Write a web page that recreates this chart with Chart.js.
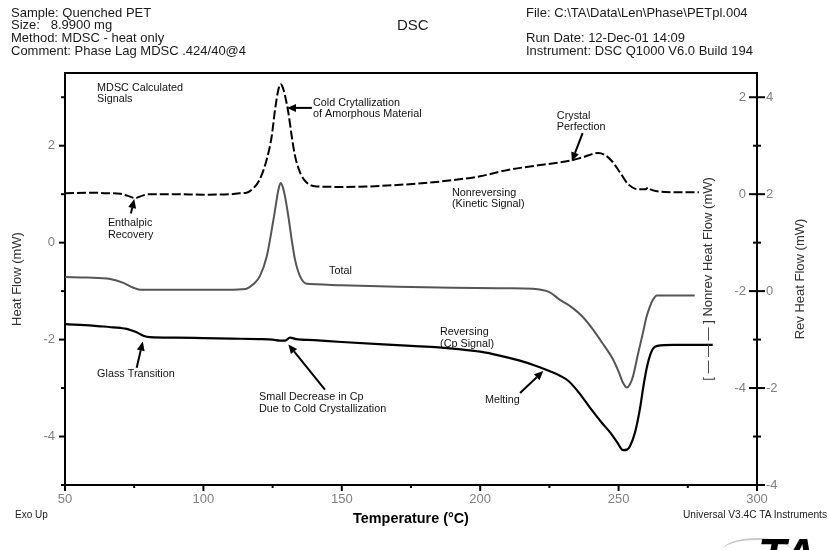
<!DOCTYPE html>
<html><head><meta charset="utf-8">
<script src="https://cdn.jsdelivr.net/npm/chart.js@4.4.1/dist/chart.umd.min.js"></script>
<style>
html,body{margin:0;padding:0;background:#fff;}
#wrap{position:relative;width:828px;height:550px;overflow:hidden;font-family:Arial,"Liberation Sans",sans-serif;}
canvas{position:absolute;left:0;top:0;}
.t{position:absolute;white-space:pre;color:#1a1a1a;}
</style></head><body>
<div id="wrap">
<canvas id="c" width="828" height="550"></canvas>
<div class="t" style="left:11px;top:6.6px;font-size:13px;line-height:12.7px">Sample: Quenched PET
Size:   8.9900 mg
Method: MDSC - heat only
Comment: Phase Lag MDSC .424/40@4</div>
<div class="t" style="left:397px;top:16px;font-size:15px;line-height:18px">DSC</div>
<div class="t" style="left:526px;top:6.6px;font-size:13px;line-height:12.7px">File: C:\TA\Data\Len\Phase\PETpl.004

Run Date: 12-Dec-01 14:09
Instrument: DSC Q1000 V6.0 Build 194</div>
<div class="t" style="left:15px;top:509px;font-size:10px;line-height:12px">Exo Up</div>
<div class="t" style="left:683px;top:509px;font-size:10.2px;line-height:12px">Universal V3.4C TA Instruments</div>
<div style="position:absolute;left:722px;top:538px;width:70px;height:24px;border-top:2px solid #c8c8c8;border-radius:50%;"></div>
<div class="t" style="left:758px;top:532px;font-size:46px;line-height:46px;font-weight:bold;font-style:italic;color:#000">TA</div>
</div>
<script>
// ---- data ----
const nonrevT = [50,60,65,70,72.5,75.3,78,80,90,100,110,113,115.6,118,120.4,122.9,124.7,125.9,127.1,127.9,128.7,129.5,130.7,131.9,133.1,134.9,137.3,140.9,150,160,170,180,190,200,210,221.6,232.4,237,242.6,245,247.6,250.5,253.4,257,259.8,260.6,261.5,264,270,279];
const nonrevHF = [0.02,0.03,0.02,0.01,-0.03,-0.08,-0.03,0.0,0.0,-0.01,0.0,0.02,0.03,0.12,0.31,0.72,1.20,1.75,2.16,2.27,2.20,2.03,1.68,1.20,0.79,0.45,0.24,0.16,0.15,0.16,0.19,0.23,0.29,0.37,0.50,0.60,0.69,0.76,0.85,0.81,0.68,0.45,0.21,0.10,0.10,0.14,0.10,0.06,0.04,0.04];
const totalT = [50,58,66.3,71.1,74.7,77.1,85,100,110,114,115.6,118,120.4,122.9,124.7,125.9,127.1,127.9,128.7,129.5,130.7,131.9,133.1,134.9,137.3,140.9,150,170,190,210,219,225,228.8,233,237,240.7,244,248,250,251.5,253,254,255.2,257,258.8,260,261.3,262.4,263.8,270,277.5];
const totalHF = [-0.71,-0.72,-0.75,-0.83,-0.93,-0.97,-0.97,-0.97,-0.97,-0.96,-0.95,-0.86,-0.69,-0.28,0.27,0.68,1.09,1.23,1.14,0.95,0.54,0.06,-0.35,-0.69,-0.85,-0.86,-0.88,-0.91,-0.93,-0.94,-0.95,-1.02,-1.18,-1.33,-1.53,-1.79,-2.06,-2.41,-2.66,-2.88,-2.99,-2.93,-2.76,-2.30,-1.86,-1.55,-1.32,-1.18,-1.09,-1.09,-1.09];
const revT = [50,60,66,70,72.3,74,75.9,78.3,80.7,90,100,110,120,125,127.7,129.5,131.3,133.5,140,150,165,175,185,193,200,207,214,220,225,229,232,236,240,244,247,249.5,251.6,253,254.1,256,257.7,259,260.3,261.5,262.5,264,270,284];
const revHF = [-0.68,-0.71,-0.74,-0.76,-0.78,-0.81,-0.85,-0.92,-0.95,-0.96,-0.97,-0.98,-0.99,-1.00,-1.02,-1.02,-0.96,-0.99,-1.01,-1.05,-1.10,-1.13,-1.16,-1.20,-1.25,-1.33,-1.43,-1.54,-1.65,-1.75,-1.86,-2.12,-2.43,-2.72,-2.92,-3.12,-3.28,-3.27,-3.20,-2.90,-2.43,-1.95,-1.55,-1.30,-1.18,-1.13,-1.11,-1.11];

const xRange = [50, 300];
const leftRange = [-5, 3.5];
const nonrevRange = [-6, 2.5];
const revRange = [-4, 4.5];

const notes = [
  {lines:['MDSC Calculated','Signals'], at:[61.6,3.20]},
  {lines:['Cold Crytallization','of Amorphous Material'], at:[139.6,2.89]},
  {lines:['Enthalpic','Recovery'], at:[65.5,0.41]},
  {lines:['Crystal','Perfection'], at:[227.7,2.62]},
  {lines:['Nonreversing','(Kinetic Signal)'], at:[189.8,1.03]},
  {lines:['Total'], at:[145.4,-0.58]},
  {lines:['Reversing','(Cp Signal)'], at:[185.5,-1.84]},
  {lines:['Glass Transition'], at:[61.6,-2.72]},
  {lines:['Small Decrease in Cp','Due to Cold Crystallization'], at:[120.1,-3.18]},
  {lines:['Melting'], at:[201.7,-3.24]}
];
const arrows = [
  {from:[139.2,2.78], to:[130.2,2.78]},
  {from:[73.8,0.60], to:[75.0,0.90]},
  {from:[237.0,2.26], to:[233.1,1.68]},
  {from:[75.9,-2.58], to:[78.1,-2.04]},
  {from:[143.9,-3.03], to:[130.7,-2.10]},
  {from:[214.4,-3.10], to:[222.8,-2.65]}
];

const F = 'Arial, "Liberation Sans", sans-serif';
Chart.defaults.font.family = F;

const pts = (xs, ys) => xs.map((x, i) => ({x, y: ys[i]}));

const decor = {
  id: 'decor',
  afterDraw(chart) {
    const ctx = chart.ctx, ca = chart.chartArea;
    const sx = chart.scales.x, sy = chart.scales.y, sr = chart.scales.yR;
    const line = (x1, y1, x2, y2) => { ctx.beginPath(); ctx.moveTo(x1, y1); ctx.lineTo(x2, y2); ctx.stroke(); };
    ctx.save();
    ctx.strokeStyle = '#000'; ctx.fillStyle = '#000'; ctx.lineWidth = 2;
    sx.ticks.forEach(t => { const p = sx.getPixelForValue(t.value); const L = t.value % 50 === 0 ? 6 : 3; line(p, ca.bottom, p, ca.bottom + L); });
    sy.ticks.forEach(t => { const p = sy.getPixelForValue(t.value); const L = t.value % 2 === 0 ? 6 : 4; line(ca.left - L, p, ca.left, p); });
    sr.ticks.forEach(t => { const p = sr.getPixelForValue(t.value); const L = t.value % 2 === 0 ? 8 : 4; line(ca.right - L, p, ca.right + L, p); });

    // right axis titles (read bottom-to-top)
    const cy = (ca.top + ca.bottom) / 2;
    ctx.font = '13px ' + F; ctx.fillStyle = '#333'; ctx.textAlign = 'center'; ctx.textBaseline = 'middle';
    [[708.5, '[ \u2014 \u2014 \u2014 ] Nonrev Heat Flow (mW)'], [800, 'Rev Heat Flow (mW)']].forEach(([x, s]) => {
      ctx.save(); ctx.translate(x, cy); ctx.rotate(-Math.PI / 2); ctx.fillText(s, 0, 0); ctx.restore();
    });

    // annotations
    ctx.font = '10.8px ' + F; ctx.fillStyle = '#111'; ctx.textAlign = 'left'; ctx.textBaseline = 'middle';
    notes.forEach(n => {
      const x = sx.getPixelForValue(n.at[0]), y = sy.getPixelForValue(n.at[1]);
      n.lines.forEach((s, i) => ctx.fillText(s, x, y + i * 11.8));
    });
    ctx.strokeStyle = '#000'; ctx.fillStyle = '#000'; ctx.lineWidth = 2;
    arrows.forEach(a => {
      const x1 = sx.getPixelForValue(a.from[0]), y1 = sy.getPixelForValue(a.from[1]);
      const x2 = sx.getPixelForValue(a.to[0]), y2 = sy.getPixelForValue(a.to[1]);
      const ang = Math.atan2(y2 - y1, x2 - x1), hl = 9, hw = 4;
      const bx = x2 - hl * Math.cos(ang), by = y2 - hl * Math.sin(ang);
      line(x1, y1, bx, by);
      ctx.beginPath(); ctx.moveTo(x2, y2);
      ctx.lineTo(bx + hw * Math.sin(ang), by - hw * Math.cos(ang));
      ctx.lineTo(bx - hw * Math.sin(ang), by + hw * Math.cos(ang));
      ctx.closePath(); ctx.fill();
    });
    ctx.restore();
  }
};

const tickFont = {size: 13, family: F};
const tickColor = '#808080';
const evenLabel = (v) => (v % 2 === 0 ? String(v) : '');

new Chart(document.getElementById('c'), {
  type: 'line',
  data: {
    datasets: [
      {label: 'Nonreversing', data: pts(nonrevT, nonrevHF), yAxisID: 'yN', borderColor: '#000', borderWidth: 2, borderDash: [9, 3], pointRadius: 0, cubicInterpolationMode: 'monotone', fill: false},
      {label: 'Total', data: pts(totalT, totalHF), yAxisID: 'y', borderColor: '#555', borderWidth: 2, pointRadius: 0, cubicInterpolationMode: 'monotone', fill: false},
      {label: 'Reversing', data: pts(revT, revHF), yAxisID: 'yR', borderColor: '#000', borderWidth: 2.2, pointRadius: 0, cubicInterpolationMode: 'monotone', fill: false}
    ]
  },
  options: {
    responsive: false, animation: false, devicePixelRatio: 1,
    layout: {padding: {left: 0, right: 0, top: 73, bottom: 0}},
    plugins: {legend: {display: false}, tooltip: {enabled: false}},
    scales: {
      x: {type: 'linear', position: 'bottom', min: xRange[0], max: xRange[1],
        afterFit(s) { s.height = 65; },
        border: {display: true, color: '#000', width: 2},
        grid: {display: true, drawOnChartArea: false, drawTicks: false},
        ticks: {stepSize: 25, autoSkip: false, maxRotation: 0, padding: 7, color: tickColor, font: tickFont,
          callback: (v) => (v % 50 === 0 ? String(v) : '')},
        title: {display: true, text: 'Temperature (\u00B0C)', color: '#000', font: {size: 14.4, weight: 'bold', family: F}, padding: {top: 0, bottom: 22}}
      },
      xTop: {type: 'linear', position: 'top', min: xRange[0], max: xRange[1],
        afterFit(s) { s.height = 0; },
        border: {display: true, color: '#000', width: 2},
        grid: {display: true, drawOnChartArea: false, drawTicks: false},
        ticks: {display: false}
      },
      y: {type: 'linear', position: 'left', min: leftRange[0], max: leftRange[1],
        afterFit(s) { s.width = 65; },
        border: {display: true, color: '#000', width: 2},
        grid: {display: true, drawOnChartArea: false, drawTicks: false},
        ticks: {stepSize: 1, includeBounds: false, autoSkip: false, padding: 10, color: tickColor, font: tickFont, callback: evenLabel},
        title: {display: true, text: 'Heat Flow (mW)', color: '#333', font: {size: 13, family: F}, padding: {top: 10, bottom: 0}}
      },
      yN: {type: 'linear', position: 'right', min: nonrevRange[0], max: nonrevRange[1],
        afterFit(s) { s.width = 0; },
        border: {display: false},
        grid: {display: true, drawOnChartArea: false, drawTicks: false},
        ticks: {stepSize: 1, includeBounds: false, autoSkip: false, mirror: true, padding: -11, color: tickColor, font: tickFont,
          callback: (v) => (v % 2 === 0 && v > nonrevRange[0] ? String(v) : '')}
      },
      yR: {type: 'linear', position: 'right', min: revRange[0], max: revRange[1],
        afterFit(s) { s.width = 71; },
        border: {display: true, color: '#000', width: 2},
        grid: {display: true, drawOnChartArea: false, drawTicks: false},
        ticks: {stepSize: 1, includeBounds: false, autoSkip: false, padding: 9, color: tickColor, font: tickFont, callback: evenLabel}
      }
    }
  },
  plugins: [decor]
});
</script>
</body></html>
